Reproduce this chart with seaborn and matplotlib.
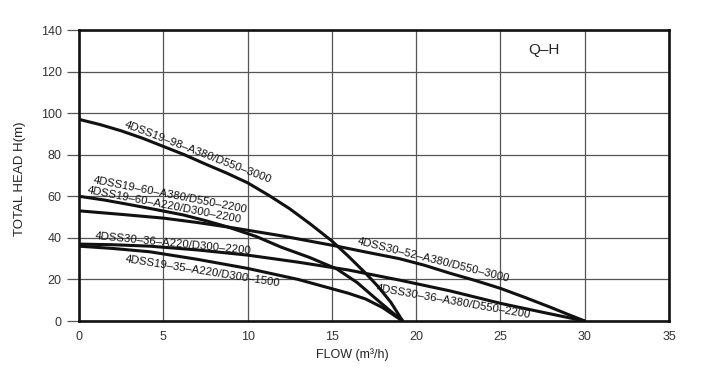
import matplotlib
matplotlib.use("Agg")
import matplotlib.pyplot as plt
import pandas as pd
import seaborn as sns

# pump curves (flow m3/h, head m)
flow_19_98 = [0, 1.25, 2.5, 3.75, 5, 6.25, 7.5, 8.75, 10, 11.25, 12.5,
              13.75, 15, 16, 17, 17.75, 18.5, 19.2]
head_19_98 = [97, 94.5, 91.5, 88, 84, 80, 75.5, 71.2, 66.5, 60.5, 54,
              46.5, 38.5, 31, 23, 16.5, 9, 0]

flow_19_60 = [0, 1.5, 3, 4.5, 6.2, 7.5, 8.8, 10.5, 12, 13.7, 15.3, 16.5,
              17.5, 18.4, 19.2]
head_19_60 = [60, 58.2, 56, 53.7, 51, 48.3, 45.3, 40.7, 35.5, 30.5, 25,
              18.5, 11.5, 5.3, 0]

flow_30_52 = [0, 2.5, 5, 7, 9, 12, 15.3, 17, 19, 20.5, 22, 23.5, 25, 26.5,
              28, 29, 30]
head_30_52 = [53, 51.3, 49.5, 47.4, 45, 41, 36, 33.2, 30, 26.8, 23, 19.5,
              15.7, 11.2, 6.5, 3.2, 0]

flow_30_36 = [0, 2, 4.2, 7, 10, 13, 16, 19, 22, 25, 27.5, 30]
head_30_36 = [37, 36.7, 36, 34.2, 31.7, 28.3, 24.5, 19.7, 14.5, 8.5, 4.2, 0]

flow_19_35 = [0, 2, 4.2, 7, 10, 13, 16, 17, 18, 19.2]
head_19_35 = [36, 34.9, 33.3, 29.7, 25.3, 20, 13.3, 10.6, 6.5, 0]

curves = [
    (flow_19_98, head_19_98),
    (flow_19_60, head_19_60),
    (flow_30_52, head_30_52),
    (flow_30_36, head_30_36),
    (flow_19_35, head_19_35),
]

# model labels: text, flow, head, angle
labels = [
    ("4DSS19–98–A380/D550–3000", 2.66, 93.3, -21),
    ("4DSS19–60–A380/D550–2200", 0.8, 66.3, -11),
    ("4DSS19–60–A220/D300–2200", 0.45, 61.5, -11),
    ("4DSS30–36–A220/D300–2200", 0.95, 39.4, -5.5),
    ("4DSS19–35–A220/D300–1500", 2.7, 28.5, -9),
    ("4DSS30–52–A380/D550–3000", 16.5, 37, -14),
    ("4DSS30–36–A380/D550–2200", 17.6, 14.5, -10),
]

x_ticks = [0, 5, 10, 15, 20, 25, 30, 35]
y_ticks = [0, 20, 40, 60, 80, 100, 120, 140]

sns.set_style("white")
plt.rcParams['font.family'] = ['Liberation Sans', 'DejaVu Sans']

fig = plt.figure(figsize=(7.09, 3.71), dpi=100)
ax = fig.add_axes([79 / 709, 50 / 371, 590 / 709, 291 / 371])

for fl, hd in curves:
    df = pd.DataFrame({"flow": fl, "head": hd})
    sns.lineplot(x="flow", y="head", data=df, color="#111111", lw=2.2,
                 sort=False, estimator=None, ax=ax)

for txt, fx, hy, ang in labels:
    ax.text(fx, hy, txt, fontsize=8.2, rotation=ang, rotation_mode="anchor",
            ha="left", va="baseline", color="#111111")

ax.text(27.6, 130.5, "Q–H", fontsize=11, ha="center", va="center")

ax.set_xlim(0, 35)
ax.set_ylim(0, 140)
ax.set_xticks(x_ticks)
ax.set_yticks(y_ticks)
ax.grid(True, color="#555555", lw=0.9)
ax.set_axisbelow(True)

for sp in ax.spines.values():
    sp.set_color("#111111")
    sp.set_linewidth(1.9)

ax.tick_params(axis="y", length=9, width=0.9, color="#555555", pad=3.5,
               labelsize=9, left=True, labelcolor="#333333")
ax.tick_params(axis="x", length=0, pad=7, labelsize=9, labelcolor="#333333")

ax.set_xlabel("FLOW (m³/h)", fontsize=9, color="#222222")
ax.set_ylabel("TOTAL HEAD H(m)", fontsize=9.5, color="#222222")
ax.xaxis.set_label_coords(0.463, -0.095)
ax.yaxis.set_label_coords(-0.09, 0.49)

fig.savefig("out.png", dpi=100)
